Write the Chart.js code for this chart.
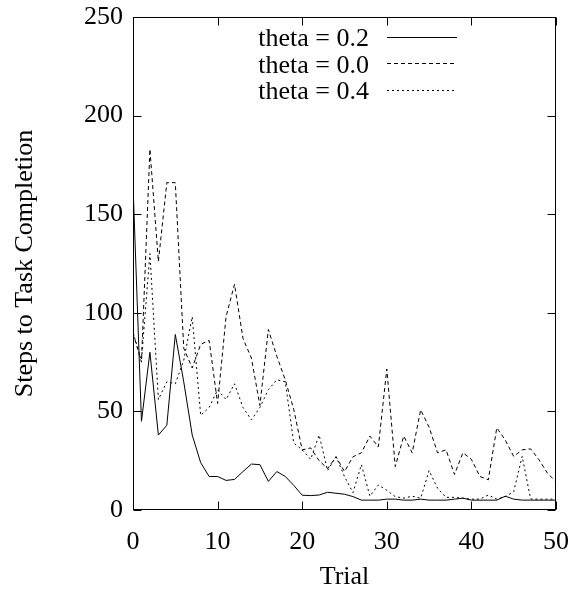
<!DOCTYPE html>
<html>
<head>
<meta charset="utf-8">
<script src="https://cdn.jsdelivr.net/npm/chart.js@4/dist/chart.umd.min.js"></script>
<style>
  html, body { margin: 0; padding: 0; background: #fff; }
  #wrap { width: 573px; height: 590px; }
</style>
</head>
<body>
<div id="wrap"><canvas id="trialChart" width="573" height="590"></canvas></div>
<script>
// trial numbers 0..50
const trials = [0,1,2,3,4,5,6,7,8,9,10,11,12,13,14,15,16,17,18,19,20,21,22,23,24,25,
    26,27,28,29,30,31,32,33,34,35,36,37,38,39,40,41,42,43,44,45,46,47,48,49,50];

// steps per trial
const theta02 = [165, 45, 80, 38, 43, 89, 65, 38, 24, 17, 17, 15, 15.5, 19.5, 23.3, 23, 14.5, 19.5, 17, 12.5,
    7.5, 7.3, 7.6, 9, 8.5, 8, 6.8, 5, 5, 5, 5.5, 5.5, 5, 5, 5.5, 5, 5, 5, 5.5, 6,
    5, 5, 5, 5, 7, 5.5, 5, 5, 5, 5, 5];
const theta00 = [90, 75, 183, 126, 166, 166, 82, 72, 84, 86, 54, 98, 114.5, 87, 77, 53, 91.5, 78, 66, 51,
    30.5, 31.5, 25, 21, 27, 19.5, 27, 29, 37.5, 32, 71.5, 22, 37.5, 29, 50.8, 42, 29, 30.5, 18, 29,
    25.7, 17, 15.3, 41.7, 35.5, 27.2, 30.5, 31, 25.4, 18.6, 14.4];
const theta04 = [90, 76, 130, 56, 65, 64, 76, 98, 48, 52, 61, 56, 64, 52, 45.7, 52, 61, 66, 65, 34,
    30.5, 25.7, 38, 20, 27, 17, 8.8, 23, 7, 12.7, 10, 6.8, 6, 7, 6, 20, 11, 6.4, 6.4, 6,
    5.5, 5.5, 7.6, 5.5, 6.8, 9.3, 27.2, 5.6, 5.5, 5.5, 5.5];

const seriesLabels = ['theta = 0.2', 'theta = 0.0', 'theta = 0.4'];
const xTicks = [0, 10, 20, 30, 40, 50];
const yTicks = [0, 50, 100, 150, 200, 250];

const serif = "'Liberation Serif', 'Times New Roman', serif";
const dashes = [[], [4, 3], [2, 3]];

function toPoints(values) {
    return values.map((v, i) => ({ x: trials[i], y: v }));
}

// gnuplot style box with inward ticks + legend inside the plot
const gnuplotFrame = {
    id: 'gnuplotFrame',
    afterDatasetsDraw(chart) {
        const { ctx, chartArea: a, scales: { x, y } } = chart;
        const L = Math.round(a.left) + 0.5, R = Math.round(a.right) - 0.5;
        const T = Math.round(a.top) + 0.5, B = Math.round(a.bottom) - 0.5;
        ctx.save();
        ctx.strokeStyle = '#000';
        ctx.lineWidth = 1;
        ctx.setLineDash([]);
        ctx.strokeRect(L, T, R - L, B - T);
        ctx.beginPath();
        xTicks.forEach(v => {
            const px = Math.round(x.getPixelForValue(v)) + 0.5;
            ctx.moveTo(px, B); ctx.lineTo(px, B - 8);
            ctx.moveTo(px, T); ctx.lineTo(px, T + 8);
        });
        yTicks.forEach(v => {
            const py = Math.round(y.getPixelForValue(v)) + 0.5;
            ctx.moveTo(L, py); ctx.lineTo(L + 8, py);
            ctx.moveTo(R, py); ctx.lineTo(R - 8, py);
        });
        ctx.stroke();

        // legend
        ctx.font = '26px ' + serif;
        ctx.fillStyle = '#000';
        ctx.textAlign = 'right';
        ctx.textBaseline = 'alphabetic';
        chart.data.datasets.forEach((ds, i) => {
            const ly = 36.5 + i * 26.7;
            ctx.fillText(ds.label, 369, ly + 9.5);
            ctx.beginPath();
            ctx.setLineDash(ds.borderDash);
            ctx.moveTo(387, Math.round(ly) + 0.5);
            ctx.lineTo(457, Math.round(ly) + 0.5);
            ctx.stroke();
        });
        ctx.restore();
    }
};

function noPad(s) {
    s.paddingLeft = 0; s.paddingRight = 0; s.paddingTop = 0; s.paddingBottom = 0;
}

function createChart() {
    const ctx = document.getElementById('trialChart').getContext('2d');
    const data = [theta02, theta00, theta04];
    new Chart(ctx, {
        type: 'line',
        data: {
            datasets: data.map((vals, i) => ({
                label: seriesLabels[i],
                data: toPoints(vals),
                borderColor: '#000',
                borderWidth: 1,
                borderDash: dashes[i],
                pointRadius: 0,
                tension: 0,
                fill: false
            }))
        },
        options: {
            responsive: false,
            animation: false,
            layout: { padding: { top: 17, right: 17, left: 0, bottom: 0 } },
            plugins: { legend: { display: false }, tooltip: { enabled: false } },
            scales: {
                x: {
                    type: 'linear',
                    min: 0, max: 50,
                    grid: { display: false, drawTicks: false },
                    border: { display: false },
                    ticks: { stepSize: 10, color: '#000', padding: 17, maxRotation: 0,
                        font: { family: serif, size: 26 } },
                    title: { display: true, text: 'Trial', color: '#000',
                        font: { family: serif, size: 26, lineHeight: 1.0 }, padding: { top: 0, bottom: 0 } },
                    afterFit(s) { s.height = 80; noPad(s); }
                },
                y: {
                    min: 0, max: 250,
                    grid: { display: false, drawTicks: false },
                    border: { display: false },
                    ticks: { stepSize: 50, color: '#000', padding: 10,
                        font: { family: serif, size: 26 } },
                    title: { display: true, text: 'Steps to Task Completion', color: '#000',
                        font: { family: serif, size: 26, lineHeight: 1.2 }, padding: { top: 10, bottom: 0 } },
                    afterFit(s) { s.width = 133; noPad(s); }
                }
            }
        },
        plugins: [gnuplotFrame]
    });
}

createChart();
</script>
</body>
</html>
